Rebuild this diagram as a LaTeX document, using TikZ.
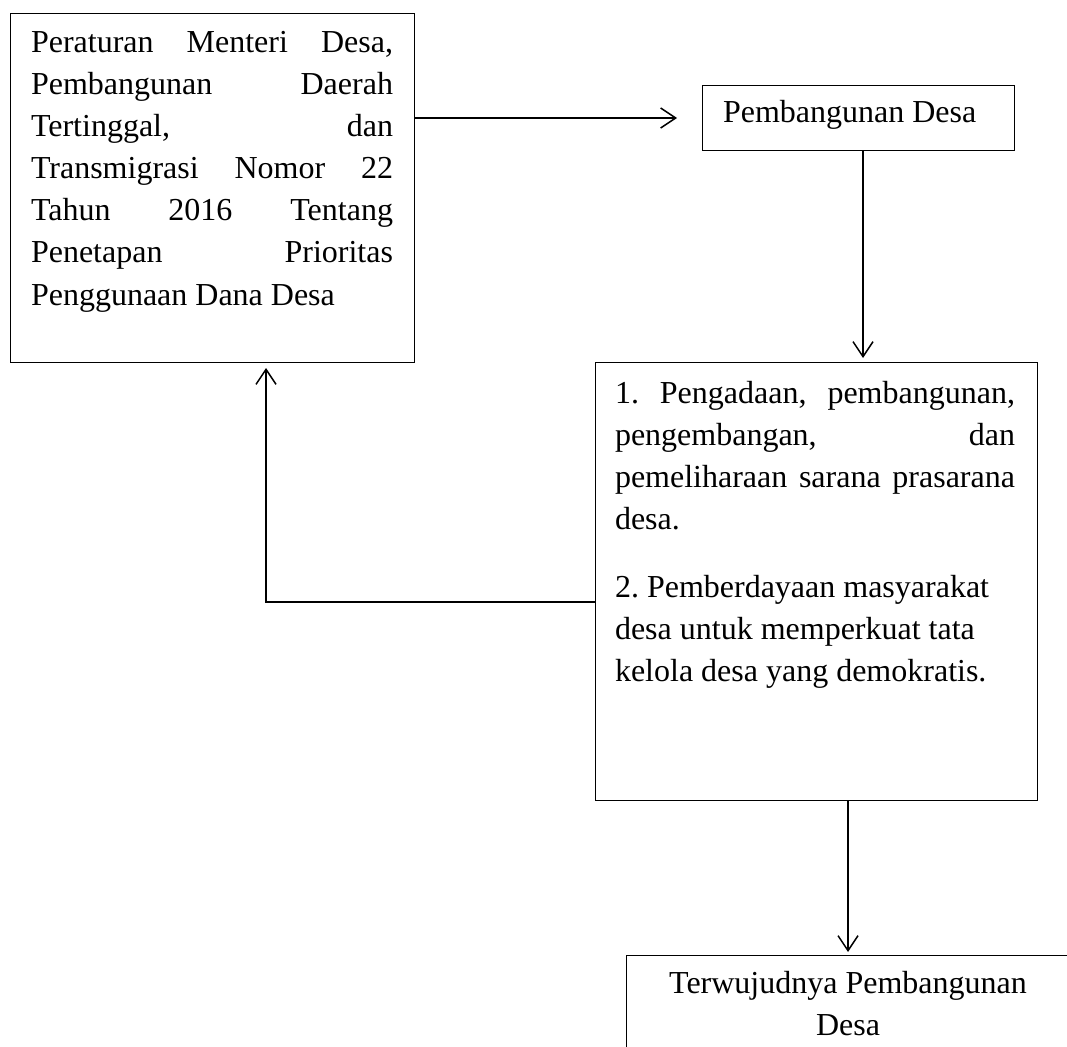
\documentclass[tikz,border=0pt]{standalone}
\usepackage{fontspec}
\setmainfont{Liberation Serif}
\usetikzlibrary{arrows.meta}
\tikzset{
  boxnode/.style={draw=black, line width=1pt, inner sep=0pt, outer sep=0pt, rectangle},
  txt/.style={inner sep=0pt, outer sep=0pt, anchor=base west},
  arr/.style={line width=1.5pt, -{Straight Barb[length=15pt,width=20pt,line width=1.5pt]}},
  conn/.style={line width=1.5pt}
}
\newcommand{\bigfont}{\fontsize{32pt}{42pt}\selectfont\frenchspacing}
\begin{document}
\begin{tikzpicture}[x=1pt,y=-1pt]
\useasboundingbox (0,0) rectangle (1067,1046);
\clip (0,0) rectangle (1067,1046);
% boxes
\node[boxnode, minimum width=404pt, minimum height=348pt] (A) at (212,188) {};
\node[boxnode, minimum width=312pt, minimum height=64pt] (B) at (858,118) {};
\node[boxnode, minimum width=442pt, minimum height=438pt] (C) at (816,581) {};
\node[boxnode, minimum width=444pt, minimum height=155pt] (D) at (848,1032.5) {};
% texts
\node[txt] (tA) at (31,53) {\parbox[t]{362pt}{\bigfont
Peraturan Menteri Desa,\linebreak
Pembangunan Daerah\linebreak
Tertinggal, dan\linebreak
Transmigrasi Nomor 22\linebreak
Tahun 2016 Tentang\linebreak
Penetapan Prioritas\linebreak
Penggunaan Dana Desa}};
\node[txt] (tB) at (723,123) {\bigfont Pembangunan Desa};
\node[txt] (tC) at (615,403) {\parbox[t]{400pt}{\bigfont
1. Pengadaan, pembangunan,\linebreak
pengembangan, dan\linebreak
pemeliharaan sarana prasarana\linebreak
desa.\par\vspace{26pt}
\raggedright
2. Pemberdayaan masyarakat\\
desa untuk memperkuat tata\\
kelola desa yang demokratis.}};
\node[inner sep=0pt, outer sep=0pt, anchor=base] (tD) at (848,993) {\parbox[t]{430pt}{\centering\bigfont
Terwujudnya Pembangunan\\ Desa}};
% connectors
\draw[arr] (A.east |- B.west) -- ([xshift=-25pt]B.west);
\draw[arr, shorten >=4pt] ([xshift=5pt]B.south) -- ([xshift=5pt]B.south |- C.north);
\coordinate (bend) at (266,602);
\draw[arr, shorten >=6pt] (C.west |- bend) -- (bend) -- (bend |- A.south);
\draw[arr, shorten >=3pt] (C.south -| D.north) -- (D.north);
\end{tikzpicture}
\end{document}
